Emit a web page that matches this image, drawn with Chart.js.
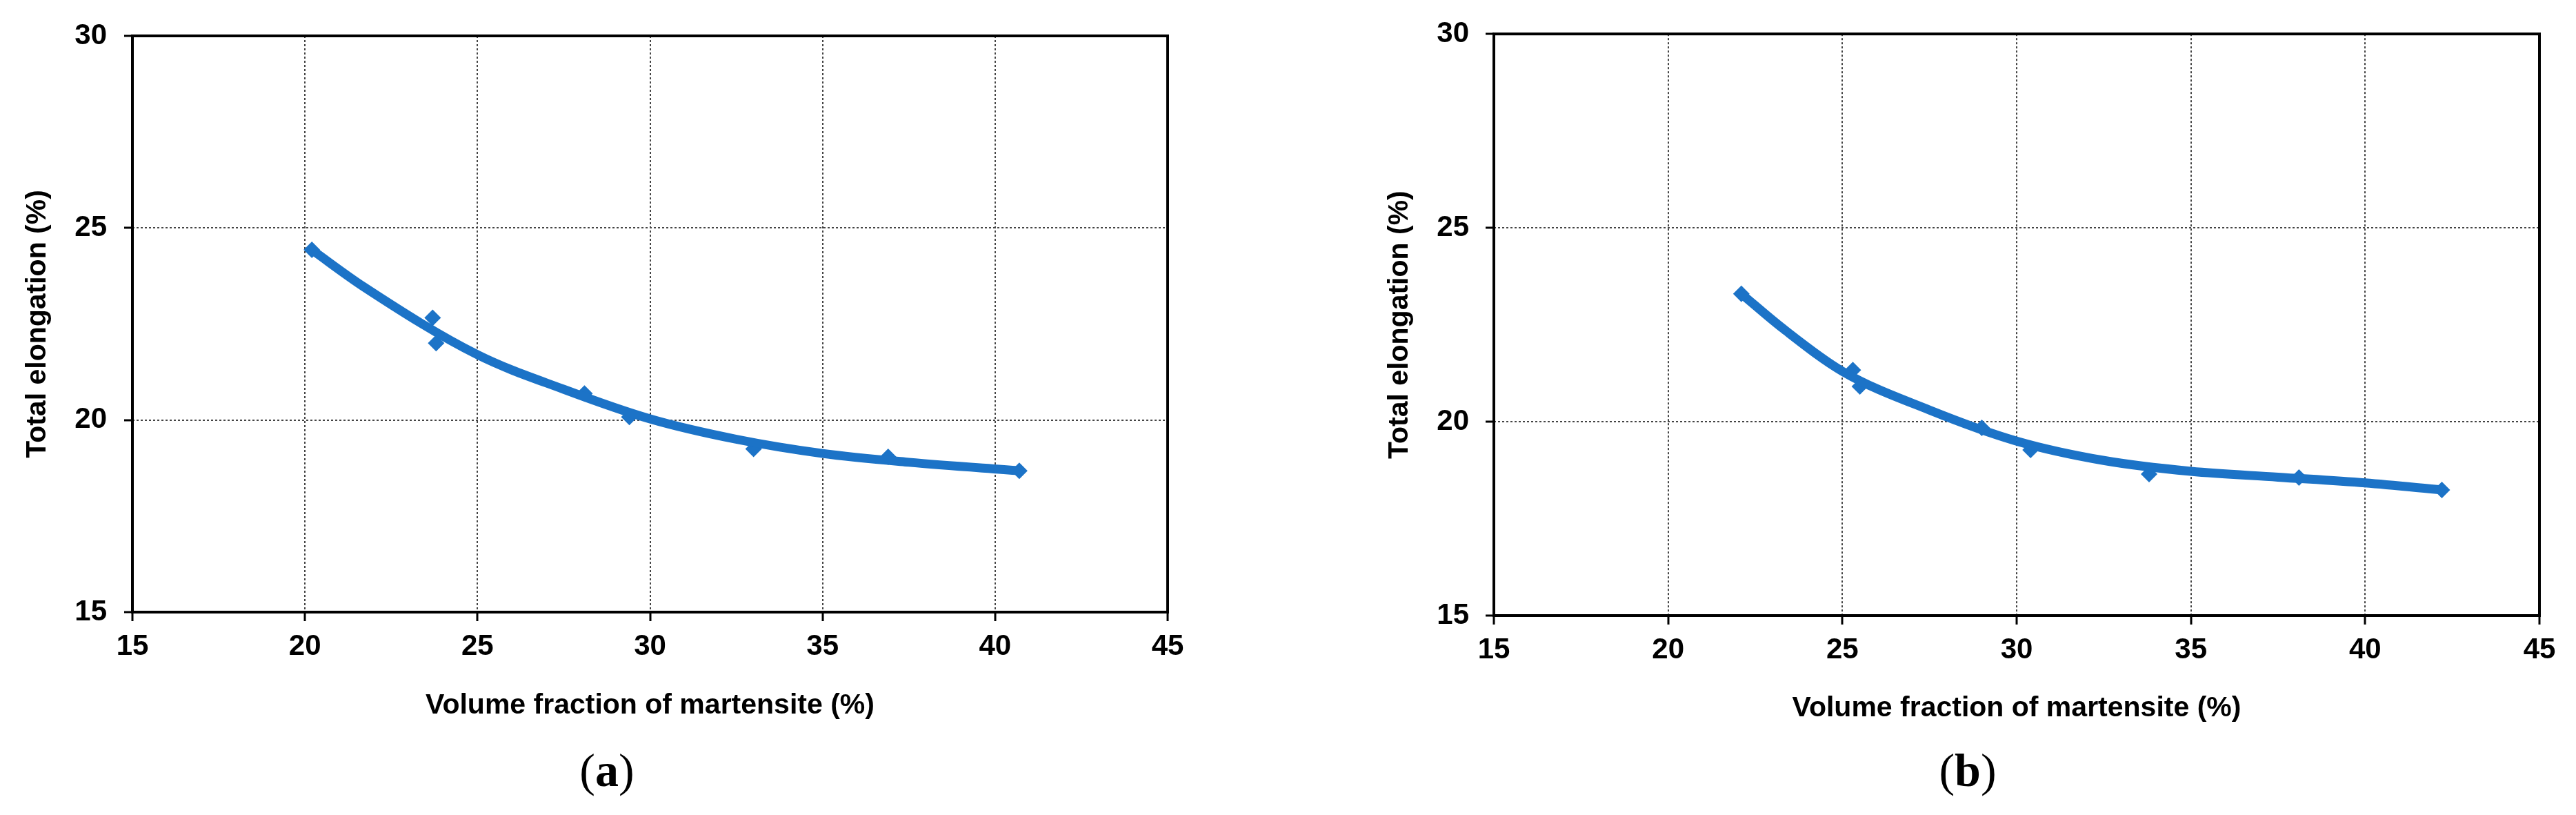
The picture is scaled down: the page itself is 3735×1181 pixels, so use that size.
<!DOCTYPE html>
<html>
<head>
<meta charset="utf-8">
<script src="https://cdn.jsdelivr.net/npm/chart.js"></script>
<style>
  body { margin: 0; background: #fff; }
  #page { position: relative; width: 3735px; height: 1181px; overflow: hidden; background: #fff; }
  .box { position: absolute; top: 0; height: 1060px; }
  .cap { position: absolute; font-family: 'Liberation Serif', 'Times New Roman', serif; font-size: 68px; line-height: 1; transform: translateX(-50%); }
</style>
</head>
<body>
<div id="page">
  <div class="box" id="boxA" style="left:0; width:1760px;"><canvas id="chartA"></canvas></div>
  <div class="box" id="boxB" style="left:1950px; width:1785px;"><canvas id="chartB"></canvas></div>
  <div class="cap" style="left:880px; top:1082px;">(<b>a</b>)</div>
  <div class="cap" style="left:2853px; top:1082px;">(<b>b</b>)</div>
</div>
<script>
// (a) measured points
const volA = [20.2, 23.7, 23.8, 28.1, 29.4, 33.0, 36.9, 40.7];
const elongA = [24.43, 22.66, 22.0, 20.69, 20.08, 19.25, 19.04, 18.68];
// (a) trend curve
const fitXA = [20.2, 21.7, 25, 27.5, 30, 32.5, 35, 37.5, 40.7];
const fitYA = [24.43, 23.47, 21.7, 20.8, 20.03, 19.5, 19.13, 18.9, 18.68];

// (b) measured points
const volB = [22.1, 25.3, 25.5, 29.0, 30.4, 33.8, 38.1, 42.2];
const elongB = [23.3, 21.33, 20.91, 19.84, 19.27, 18.65, 18.56, 18.24];
// (b) trend curve
const fitXB = [22.1, 23.3, 25, 27.5, 30, 32.5, 35, 37.5, 40, 42.2];
const fitYB = [23.3, 22.4, 21.3, 20.3, 19.5, 19.0, 18.72, 18.57, 18.42, 18.24];

const xTicks = [15, 20, 25, 30, 35, 40, 45];
const yTicks = [15, 20, 25, 30];

const xTitle = 'Volume fraction of martensite (%)';
const yTitle = 'Total elongation (%)';

const blue = '#1c73c7';
const sans = "'Liberation Sans', Arial, sans-serif";

// solid frame round the plot area
const framePlugin = {
  id: 'frame',
  afterDraw(chart) {
    const a = chart.chartArea;
    const ctx = chart.ctx;
    ctx.save();
    ctx.strokeStyle = '#000';
    ctx.lineWidth = 4;
    ctx.strokeRect(a.left, a.top, a.right - a.left, a.bottom - a.top);
    ctx.restore();
  }
};

function pts(xs, ys) {
  return xs.map((x, i) => ({ x: x, y: ys[i] }));
}

function makeChart(id, vx, vy, fx, fy, lay) {
  return new Chart(document.getElementById(id), {
    type: 'scatter',
    data: {
      datasets: [
        {
          data: pts(fx, fy),
          showLine: true,
          cubicInterpolationMode: 'monotone',
          borderColor: blue,
          borderWidth: 13,
          pointRadius: 0,
          borderCapStyle: 'round'
        },
        {
          data: pts(vx, vy),
          pointStyle: 'rectRot',
          pointRadius: 12,
          backgroundColor: blue,
          borderColor: blue,
          borderWidth: 0
        }
      ]
    },
    options: {
      responsive: true,
      maintainAspectRatio: false,
      animation: false,
      layout: { padding: { left: 0, top: lay.top, right: lay.right, bottom: 0 } },
      plugins: { legend: { display: false }, tooltip: { enabled: false } },
      scales: {
        x: {
          type: 'linear',
          min: xTicks[0],
          max: xTicks[xTicks.length - 1],
          afterBuildTicks: s => { s.ticks = xTicks.map(v => ({ value: v })); },
          afterFit: s => { s.height = lay.xh; },
          ticks: { color: '#000', padding: 12, font: { family: sans, size: 42, weight: 'bold' }, maxRotation: 0 },
          grid: { color: '#444', lineWidth: 2, tickColor: '#000', tickWidth: 3, tickLength: 13 },
          border: { display: false, dash: [3, 3] },
          title: { display: true, text: xTitle, color: '#000', padding: { top: 0, bottom: lay.xtp }, font: { family: sans, size: 41, weight: 'bold' } }
        },
        y: {
          type: 'linear',
          min: yTicks[0],
          max: yTicks[yTicks.length - 1],
          afterBuildTicks: s => { s.ticks = yTicks.map(v => ({ value: v })); },
          afterFit: s => { s.width = lay.yw; },
          ticks: { color: '#000', padding: lay.ypad, font: { family: sans, size: 42, weight: 'bold' } },
          grid: { color: '#444', lineWidth: 2, tickColor: '#000', tickWidth: 3, tickLength: 12 },
          border: { display: false, dash: [3, 3] },
          title: { display: true, text: yTitle, color: '#000', padding: { top: lay.ytp, bottom: 0 }, font: { family: sans, size: 41, weight: 'bold' } }
        }
      }
    },
    plugins: [framePlugin]
  });
}

makeChart('chartA', volA, elongA, fitXA, fitYA, { top: 52, right: 67, xh: 173, yw: 192, ypad: 25, ytp: 30, xtp: 13 });
makeChart('chartB', volB, elongB, fitXB, fitYB, { top: 48, right: 53, xh: 168, yw: 216, ypad: 24, ytp: 55, xtp: 9 });
</script>
</body>
</html>
